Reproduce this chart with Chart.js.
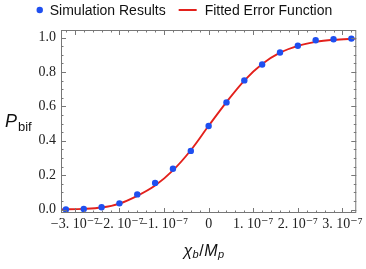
<!DOCTYPE html>
<html lang="en">
<head>
<meta charset="UTF-8">
<title>P_bif vs chi_b / M_p</title>
<script src="https://cdn.jsdelivr.net/npm/chart.js@4.4.0/dist/chart.umd.min.js"></script>
<style>
    html, body { margin: 0; padding: 0; background: #fff; }
</style>
</head>
<body>
<canvas id="chart" width="366" height="269"></canvas>
<script>
    // simulation points
    const simX = [-3.2e-7, -2.8e-7, -2.4e-7, -2.0e-7, -1.6e-7, -1.2e-7, -0.8e-7, -0.4e-7, 0,
                  0.4e-7, 0.8e-7, 1.2e-7, 1.6e-7, 2.0e-7, 2.4e-7, 2.8e-7, 3.2e-7];
    const simY = [0.0, 0.003, 0.013, 0.036, 0.088, 0.155, 0.237, 0.341, 0.486,
                  0.623, 0.751, 0.843, 0.913, 0.952, 0.984, 0.990, 0.994];

    // fitted error function, sampled from the red curve
    const fitX = [-3.31e-7, -2.8e-7, -2.4e-7, -2.0e-7, -1.6e-7, -1.2e-7, -0.8e-7, -0.4e-7, 0,
                  0.4e-7, 0.8e-7, 1.2e-7, 1.6e-7, 2.0e-7, 2.4e-7, 2.8e-7, 3.31e-7];
    const fitY = [0.001, 0.004, 0.012, 0.035, 0.080, 0.140, 0.228, 0.345, 0.487,
                  0.625, 0.750, 0.846, 0.912, 0.952, 0.975, 0.987, 0.994];

    const xTickVals = [-3e-7, -2e-7, -1e-7, 0, 1e-7, 2e-7, 3e-7];
    const xTickLabels = ['\u22123. 10\u207B\u2077', '\u22122. 10\u207B\u2077', '\u22121. 10\u207B\u2077', '0',
                         '1. 10\u207B\u2077', '2. 10\u207B\u2077', '3. 10\u207B\u2077'];
    const yTickVals = [0, 0.2, 0.4, 0.6, 0.8, 1.0];
    const yTickLabels = ['0.0', '0.2', '0.4', '0.6', '0.8', '1.0'];

    const BLUE = '#1f4ff0';
    const RED = '#e3211c';
    const FRAME = '#777';
    const tickFont = { family: '"Liberation Serif", "DejaVu Serif", serif', size: 14 };

    // Mathematica-like frame with inward ticks on all four sides
    const framePlugin = {
        id: 'frame',
        afterDraw(chart) {
            const { ctx, chartArea: a, scales: { x, y } } = chart;
            ctx.save();
            ctx.strokeStyle = FRAME;
            ctx.lineWidth = 1;
            ctx.strokeRect(a.left + 0.5, a.top + 0.5, a.right - a.left - 1, a.bottom - a.top - 1);
            ctx.beginPath();
            for (let k = -16; k <= 16; k++) {
                const px = Math.round(x.getPixelForValue(k * 0.2e-7)) + 0.5;
                if (px < a.left + 1 || px > a.right - 1) continue;
                const len = k % 5 === 0 ? 5 : 2.5;
                ctx.moveTo(px, a.bottom); ctx.lineTo(px, a.bottom - len);
                ctx.moveTo(px, a.top); ctx.lineTo(px, a.top + len);
            }
            for (let k = 0; k <= 20; k++) {
                const py = Math.round(y.getPixelForValue(k * 0.05)) + 0.5;
                if (py < a.top + 1 || py > a.bottom - 1) continue;
                const len = k % 4 === 0 ? 5 : 2.5;
                ctx.moveTo(a.left, py); ctx.lineTo(a.left + len, py);
                ctx.moveTo(a.right, py); ctx.lineTo(a.right - len, py);
            }
            ctx.stroke();
            ctx.restore();
        }
    };

    // legend on top + axis titles with subscripts
    const textPlugin = {
        id: 'texts',
        afterDraw(chart) {
            const ctx = chart.ctx;
            const sims = chart.data.datasets[0];
            const fit = chart.data.datasets[1];
            ctx.save();
            ctx.textBaseline = 'alphabetic';
            ctx.fillStyle = '#111';

            ctx.font = '14px "Liberation Sans", Arial, sans-serif';
            const w1 = ctx.measureText(sims.label).width;
            const w2 = ctx.measureText(fit.label).width;
            const total = 8 + 6 + w1 + 13 + 18 + 8 + w2;
            let lx = 184 - total / 2;
            const ly = 10;
            ctx.fillStyle = sims.backgroundColor;
            ctx.beginPath(); ctx.arc(lx + 4, ly, 3.2, 0, Math.PI * 2); ctx.fill();
            lx += 14;
            ctx.fillStyle = '#111';
            ctx.fillText(sims.label, lx, ly + 5);
            lx += w1 + 13;
            ctx.strokeStyle = fit.borderColor;
            ctx.lineWidth = 2;
            ctx.beginPath(); ctx.moveTo(lx, ly); ctx.lineTo(lx + 18, ly); ctx.stroke();
            lx += 26;
            ctx.fillText(fit.label, lx, ly + 5);

            // y title: P_bif
            ctx.font = 'italic 18px "Liberation Sans", Arial, sans-serif';
            ctx.fillText('P', 5, 127);
            const pw = ctx.measureText('P').width;
            ctx.font = '13px "Liberation Sans", Arial, sans-serif';
            ctx.fillText('bif', 5 + pw + 1, 131);

            // x title: chi_b / M_p
            const big = 'italic 16px "Liberation Sans", Arial, sans-serif';
            const small = 'italic 11px "Liberation Sans", Arial, sans-serif';
            const parts = [[ '\u03C7', big, 256 ], [ 'b', small, 258 ], [ '/', '16px "Liberation Sans", Arial, sans-serif', 256 ],
                           [ 'M', big, 256 ], [ 'p', small, 258 ]];
            let tw = 0;
            parts.forEach(p => { ctx.font = p[1]; tw += ctx.measureText(p[0]).width + 0.5; });
            let tx = 204 - tw / 2;
            parts.forEach(p => {
                ctx.font = p[1];
                ctx.fillText(p[0], tx, p[2]);
                tx += ctx.measureText(p[0]).width + 0.5;
            });
            ctx.restore();
        }
    };

    new Chart(document.getElementById('chart'), {
        type: 'scatter',
        data: {
            datasets: [
                {
                    type: 'scatter',
                    label: 'Simulation Results',
                    data: simX.map((v, i) => ({ x: v, y: simY[i] })),
                    backgroundColor: BLUE,
                    borderColor: BLUE,
                    pointRadius: 3.2,
                    borderWidth: 0,
                    order: 0
                },
                {
                    type: 'line',
                    label: 'Fitted Error Function',
                    data: fitX.map((v, i) => ({ x: v, y: fitY[i] })),
                    borderColor: RED,
                    borderWidth: 1.9,
                    pointRadius: 0,
                    cubicInterpolationMode: 'monotone',
                    fill: false,
                    order: 1
                }
            ]
        },
        options: {
            responsive: false,
            animation: false,
            devicePixelRatio: 1,
            layout: { padding: { top: 30, right: 9, left: 0, bottom: 0 } },
            plugins: {
                legend: { display: false },
                tooltip: { enabled: false }
            },
            scales: {
                x: {
                    type: 'linear',
                    min: -3.31e-7,
                    max: 3.31e-7,
                    grid: { display: false, drawTicks: false },
                    border: { display: false },
                    afterBuildTicks: s => { s.ticks = xTickVals.map(v => ({ value: v })); },
                    afterFit: s => { s.height = 56; },
                    ticks: {
                        autoSkip: false,
                        maxRotation: 0,
                        minRotation: 0,
                        padding: 3,
                        color: '#222',
                        font: tickFont,
                        callback: (v, i) => xTickLabels[i]
                    }
                },
                y: {
                    type: 'linear',
                    min: -0.02,
                    max: 1.044,
                    grid: { display: false, drawTicks: false },
                    border: { display: false },
                    afterBuildTicks: s => { s.ticks = yTickVals.map(v => ({ value: v })); },
                    afterFit: s => { s.width = 61; },
                    ticks: {
                        padding: 5,
                        color: '#222',
                        font: tickFont,
                        callback: (v, i) => yTickLabels[i]
                    }
                }
            }
        },
        plugins: [framePlugin, textPlugin]
    });
</script>
</body>
</html>
